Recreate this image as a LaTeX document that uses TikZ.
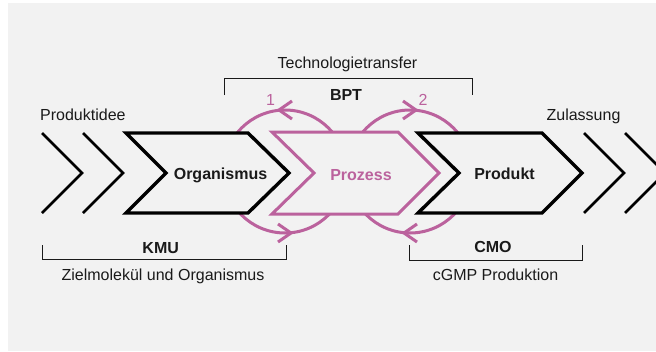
\documentclass[tikz,border=0pt]{standalone}
\usepackage{fontspec}
\setmainfont{Liberation Sans}
\usetikzlibrary{calc}
\definecolor{bggray}{HTML}{F2F2F2}
\definecolor{procpink}{RGB}{187,98,157}
\definecolor{ink}{HTML}{1A1A1A}
\begin{document}
\begin{tikzpicture}[x=1pt,y=-1pt,
  lbl/.style={font=\fontsize{16}{19}\selectfont, text=ink, anchor=base, inner sep=0pt},
  blbl/.style={lbl, font=\fontsize{16}{19}\selectfont\bfseries},
  plbl/.style={lbl, text=procpink},
  openchev/.style={line width=2.6pt, black, line join=miter},
  chevbox/.style={line width=3.4pt, black, fill=bggray, line join=miter},
  pchevbox/.style={line width=3pt, procpink, fill=bggray, line join=miter},
  loopring/.style={circle, draw=procpink, line width=3pt, minimum size=123pt, inner sep=0pt, outer sep=0pt},
  tiphead/.style={line width=3pt, procpink, line join=miter},
  bracket/.style={line width=1pt, ink}
]
\useasboundingbox (0,0) rectangle (656,351);
\fill[bggray] (8,3) rectangle (656,351);

% feedback loops
\node[loopring] (loopA) at (285,171.5) {};
\node[loopring] (loopB) at (410,171.5) {};
\draw[tiphead] ($(loopA.north)+(7,-9)$) -- ($(loopA.north)+(-6,0)$) -- ($(loopA.north)+(7,9)$);
\draw[tiphead] ($(loopA.south)+(-7,-9)$) -- ($(loopA.south)+(6,0)$) -- ($(loopA.south)+(-7,9)$);
\draw[tiphead] ($(loopB.north)+(-7,-9)$) -- ($(loopB.north)+(6,0)$) -- ($(loopB.north)+(-7,9)$);
\draw[tiphead] ($(loopB.south)+(7,-9)$) -- ($(loopB.south)+(-6,0)$) -- ($(loopB.south)+(7,9)$);

% open chevrons
\draw[openchev] (42,133) -- (82,173) -- (42,213);
\draw[openchev] (83,133) -- (123,173) -- (83,213);
\draw[openchev] (584,133) -- (624,173) -- (584,213);
\draw[openchev] (625,133) -- (665,173) -- (625,213);

% main chevrons
\draw[chevbox] (126,133) -- (248,133) -- (289,173) -- (248,213) -- (126,213) -- (166,173) -- cycle;
\draw[pchevbox] (272,132) -- (398,132) -- (439,173) -- (398,214) -- (272,214) -- (314,173) -- cycle;
\draw[chevbox] (418,133) -- (542,133) -- (582,173) -- (542,213) -- (418,213) -- (459,173) -- cycle;

\node[blbl] (org) at (220.5,179.3) {Organismus};
\node[blbl, text=procpink] (proz) at (361,180) {Prozess};
\node[blbl] (prod) at (504.5,179.3) {Produkt};

% labels
\node[lbl, anchor=base west] (idee) at (40,120) {Produktidee};
\node[lbl] (zul) at (583.5,120) {Zulassung};
\node[lbl] (tech) at (347.5,68) {Technologietransfer};
\node[blbl] (bpt) at (346,100.7) {BPT};
\node[plbl] (one) at (270.5,105) {1};
\node[plbl] (two) at (423,105) {2};
\node[blbl] (kmu) at (160.7,253) {KMU};
\node[blbl] (cmo) at (493,252.7) {CMO};
\node[lbl] (ziel) at (163,280) {Zielmolekül und Organismus};
\node[lbl] (cgmp) at (495.5,280) {cGMP Produktion};

% brackets
\draw[bracket] (224,95) -- (224,78) -- (472,78) -- (472,95);
\draw[bracket] (42,245) -- (42,259) -- (286,259) -- (286,245);
\draw[bracket] (409,245) -- (409,260) -- (582,260) -- (582,245);
\end{tikzpicture}
\end{document}
